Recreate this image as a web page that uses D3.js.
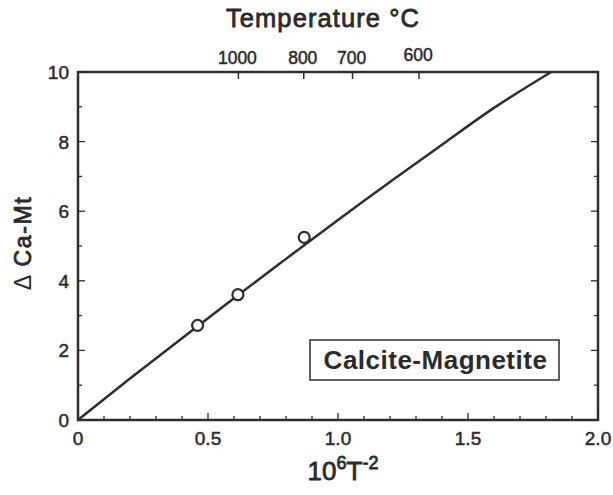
<!DOCTYPE html>
<html><head><meta charset="utf-8">
<script src="https://cdn.jsdelivr.net/npm/d3@7"></script>
<style>body{margin:0;background:#fff}svg{display:block}text{font-family:"Liberation Sans",Arial,sans-serif;fill:#2b2b2b}</style>
</head><body><svg id="c" width="613" height="495"></svg>
<script>
// Curve
const curveX = [0, 0.2, 0.4, 0.6, 0.8, 1.0, 1.2, 1.4, 1.6, 1.82];
const curveY = [0, 1.19, 2.35, 3.50, 4.63, 5.75, 6.84, 7.91, 8.97, 10.0];
// Measured points
const ptX = [0.46, 0.615, 0.87];
const ptY = [2.72, 3.60, 5.25];
// Top axis temperatures (°C)
const tempLabels = [1000, 800, 700, 600];
const xTickLabels = ["0", "0.5", "1.0", "1.5", "2.0"];
const yTickLabels = ["0", "2", "4", "6", "8", "10"];

const svg = d3.select("#c");
const L = 78, R = 598, T = 72, B = 420;
const x = d3.scaleLinear().domain([0, 2]).range([L, R]);
const y = d3.scaleLinear().domain([0, 10]).range([B, T]);
const ink = "#2e2e2e";
const med = sel => sel.attr("stroke", "#2b2b2b").attr("stroke-width", 0.5);

const g = svg.append("g");
// frame
g.append("rect").attr("x", L).attr("y", T).attr("width", R - L).attr("height", B - T)
  .attr("fill", "none").attr("stroke", ink).attr("stroke-width", 2.5);

// bottom ticks (inward)
const xMinor = d3.range(0, 2.0001, 0.1);
g.selectAll(".xt").data(xMinor).enter().append("line")
  .attr("x1", d => x(d)).attr("x2", d => x(d))
  .attr("y1", B).attr("y2", d => B - ((Math.round(d * 10) % 5 === 0) ? 7 : 4))
  .attr("stroke", ink).attr("stroke-width", 1.3);
g.selectAll(".xl").data(xTickLabels).enter().append("text")
  .attr("x", d => x(+d)).attr("y", B + 25).attr("text-anchor", "middle")
  .attr("font-size", 19).call(med).text(d => d);

// left & right ticks
const yTicks = d3.range(0, 11, 1);
g.selectAll(".yt").data(yTicks).enter().append("line")
  .attr("x1", L).attr("x2", d => L + (d % 2 === 0 ? 7 : 4))
  .attr("y1", d => y(d)).attr("y2", d => y(d)).attr("stroke", ink).attr("stroke-width", 1.3);
g.selectAll(".yr").data(yTicks).enter().append("line")
  .attr("x1", R).attr("x2", d => R - (d % 2 === 0 ? 7 : 4))
  .attr("y1", d => y(d)).attr("y2", d => y(d)).attr("stroke", ink).attr("stroke-width", 1.3);
g.selectAll(".yl").data(yTickLabels).enter().append("text")
  .attr("x", L - 9).attr("y", d => y(+d) + 7).attr("text-anchor", "end")
  .attr("font-size", 19).call(med).text(d => d);

// top ticks (temperature)
const tx = t => 1e6 / Math.pow(t + 273.15, 2);
g.selectAll(".tt").data(tempLabels).enter().append("line")
  .attr("x1", d => x(tx(d))).attr("x2", d => x(tx(d)))
  .attr("y1", T).attr("y2", T + 7).attr("stroke", ink).attr("stroke-width", 1.5);
g.selectAll(".tl").data(tempLabels).enter().append("text")
  .attr("x", d => x(tx(d)) - 1).attr("y", d => d === 600 ? T - 11 : T - 8).attr("text-anchor", "middle")
  .attr("font-size", 17.5).call(med).text(d => d);

// curve
const line = d3.line().x((d, i) => x(curveX[i])).y((d, i) => y(curveY[i])).curve(d3.curveNatural);
g.append("path").datum(curveX).attr("d", line).attr("fill", "none")
  .attr("stroke", ink).attr("stroke-width", 2.5);

// points
g.selectAll(".pt").data(ptX).enter().append("circle")
  .attr("cx", d => x(d)).attr("cy", (d, i) => y(ptY[i])).attr("r", 5.5)
  .attr("fill", "#fff").attr("stroke", ink).attr("stroke-width", 2.2);

// legend box
g.append("rect").attr("x", 310).attr("y", 340).attr("width", 249).attr("height", 40)
  .attr("fill", "#fff").attr("stroke", ink).attr("stroke-width", 1.5);
g.append("text").attr("x", 435.5).attr("y", 369).attr("text-anchor", "middle")
  .attr("font-size", 26).attr("font-weight", "bold").attr("letter-spacing", 0.5)
  .text("Calcite-Magnetite");

// titles
svg.append("text").attr("x", 323).attr("y", 27).attr("text-anchor", "middle")
  .attr("font-size", 25.5).attr("letter-spacing", 1.1).call(med).attr("stroke-width", 0.8)
  .text("Temperature °C");
const yt = svg.append("text").attr("transform", "translate(31,243) rotate(-90)").attr("text-anchor", "middle")
  .attr("font-size", 23).attr("letter-spacing", 1.6);
yt.append("tspan").attr("font-weight", "normal").text("Δ ");
yt.append("tspan").call(med).attr("stroke-width", 0.8).text("Ca-Mt");
const xt = svg.append("text").attr("x", 343).attr("y", 480).attr("text-anchor", "middle")
  .attr("font-size", 26).call(med).attr("stroke-width", 0.8);
xt.append("tspan").text("10");
xt.append("tspan").attr("dy", -11).attr("font-size", 18).text("6");
xt.append("tspan").attr("dy", 11).text("T");
xt.append("tspan").attr("dy", -11).attr("font-size", 18).text("-2");
</script></body></html>
